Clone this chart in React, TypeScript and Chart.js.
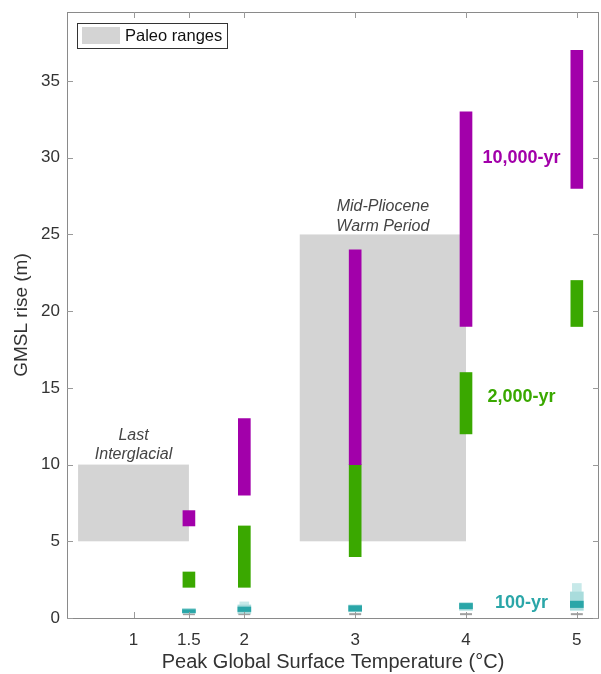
import { useEffect, useRef } from "react";
import { Chart, registerables } from "chart.js";

Chart.register(...registerables);

const FONT = "'Liberation Sans', Arial, Helvetica, sans-serif";

// Peak global surface temperature (°C) for each projection column
const temperatures = [1.5, 2, 3, 4, 5];
// 10,000-yr GMSL rise range (m)
const tenKyrLow = [6, 8, 10, 19, 28];
const tenKyrHigh = [7, 13, 24, 33, 37];
// 2,000-yr GMSL rise range (m)
const twoKyrLow = [2, 2, 4, 12, 19];
const twoKyrHigh = [3, 6, 10, 16, 22];
// 100-yr GMSL rise: likely (dark) and wider (light) ranges (m)
const hundredLow = [0.35, 0.42, 0.45, 0.6, 0.68];
const hundredHigh = [0.55, 0.72, 0.8, 0.95, 1.1];
const hundredRangeLow = [0.3, 0.3, 0.4, 0.5, 0.5];
const hundredRangeHigh = [0.62, 0.85, 0.85, 1.0, 1.7];
const hundredTailTemps = [2, 5];
const hundredTailLow = [0.85, 1.7];
const hundredTailHigh = [1.05, 2.25];
// grey baseline marks (m)
const baselineValues = [0.25, 0.25, 0.25, 0.25, 0.25];

// Paleo ranges
const paleoNames = [
  ["Last", "Interglacial"],
  ["Mid-Pliocene", "Warm Period"],
];
const paleoTempLow = [0.5, 2.5];
const paleoTempHigh = [1.5, 4.0];
const paleoSeaLow = [5, 5];
const paleoSeaHigh = [10, 25];
const paleoLabelTemp = [1.0, 3.25];
const paleoLabelSea = [11.9, 26.8];

// series annotations
const seriesLabels = ["10,000-yr", "2,000-yr", "100-yr"];
const seriesLabelTemp = [4.5, 4.5, 4.5];
const seriesLabelSea = [30, 14.4, 1.0];

const xTicks = [1, 1.5, 2, 3, 4, 5];
const yTicks = [0, 5, 10, 15, 20, 25, 30, 35];

const PURPLE = "#a200aa";
const GREEN = "#3aa800";
const TEAL = "#2aa6a8";
const TEAL_LIGHT = "#a9dcdc";
const TEAL_LIGHTER = "#c7e9e9";
const PALEO = "#d4d4d4";

const pairs = (xs: number[], lo: number[], hi: number[]) =>
  xs.map((x, i) => ({ x, y: [lo[i], hi[i]] }));

const decorPlugin = {
  id: "decor",
  beforeDatasetsDraw(chart: any) {
    const { ctx, scales } = chart;
    const x = scales.x;
    const y = scales.y;
    ctx.save();
    ctx.fillStyle = PALEO;
    for (let i = 0; i < paleoTempLow.length; i++) {
      const x0 = x.getPixelForValue(paleoTempLow[i]);
      const x1 = x.getPixelForValue(paleoTempHigh[i]);
      const y0 = y.getPixelForValue(paleoSeaLow[i]);
      const y1 = y.getPixelForValue(paleoSeaHigh[i]);
      ctx.fillRect(x0, y1, x1 - x0, y0 - y1);
    }
    ctx.restore();
  },
  afterDatasetsDraw(chart: any) {
    const { ctx, scales, chartArea } = chart;
    const x = scales.x;
    const y = scales.y;
    const { left, right, top, bottom } = chartArea;
    ctx.save();

    // frame
    ctx.strokeStyle = "#8a8a8a";
    ctx.lineWidth = 1;
    ctx.strokeRect(left + 0.5, top + 0.5, right - left - 1, bottom - top);

    // inward ticks
    ctx.strokeStyle = "#9a9a9a";
    ctx.beginPath();
    xTicks.forEach((v) => {
      const px = Math.round(x.getPixelForValue(v)) + 0.5;
      ctx.moveTo(px, bottom);
      ctx.lineTo(px, bottom - 6);
      ctx.moveTo(px, top);
      ctx.lineTo(px, top + 6);
    });
    yTicks.forEach((v) => {
      const py = Math.round(y.getPixelForValue(v)) + 0.5;
      ctx.moveTo(left, py);
      ctx.lineTo(left + 6, py);
      ctx.moveTo(right, py);
      ctx.lineTo(right - 6, py);
    });
    ctx.stroke();

    // paleo labels
    ctx.fillStyle = "#444";
    ctx.font = `italic 16px ${FONT}`;
    ctx.textAlign = "center";
    ctx.textBaseline = "middle";
    for (let i = 0; i < paleoNames.length; i++) {
      const px = x.getPixelForValue(paleoLabelTemp[i]);
      const py = y.getPixelForValue(paleoLabelSea[i]);
      paleoNames[i].forEach((line, k) => ctx.fillText(line, px, py + k * 19.5));
    }

    // series labels
    const colors = [PURPLE, GREEN, TEAL];
    ctx.font = `bold 18px ${FONT}`;
    for (let i = 0; i < seriesLabels.length; i++) {
      ctx.fillStyle = colors[i];
      ctx.fillText(
        seriesLabels[i],
        x.getPixelForValue(seriesLabelTemp[i]),
        y.getPixelForValue(seriesLabelSea[i])
      );
    }

    // legend
    const lx = left + 10;
    const ly = top + 11;
    ctx.fillStyle = "#fff";
    ctx.fillRect(lx, ly, 150, 25);
    ctx.strokeStyle = "#333";
    ctx.strokeRect(lx + 0.5, ly + 0.5, 150, 25);
    ctx.fillStyle = PALEO;
    ctx.fillRect(lx + 5, ly + 4, 38, 17);
    ctx.fillStyle = "#111";
    ctx.font = `16.5px ${FONT}`;
    ctx.textAlign = "left";
    ctx.fillText("Paleo ranges", lx + 48, ly + 13);

    ctx.restore();
  },
};

export default function App() {
  const ref = useRef<HTMLCanvasElement | null>(null);

  useEffect(() => {
    if (!ref.current) return;
    const barBase = {
      type: "bar" as const,
      grouped: false,
      borderWidth: 0,
      borderSkipped: false,
      barThickness: 12,
    };
    const chart = new Chart(ref.current, {
      type: "bar",
      data: {
        datasets: [
          { ...barBase, label: "10,000-yr", data: pairs(temperatures, tenKyrLow, tenKyrHigh), backgroundColor: PURPLE } as any,
          { ...barBase, label: "2,000-yr", data: pairs(temperatures, twoKyrLow, twoKyrHigh), backgroundColor: GREEN } as any,
          { ...barBase, label: "100-yr", data: pairs(temperatures, hundredLow, hundredHigh), backgroundColor: TEAL, barThickness: 13 } as any,
          { ...barBase, label: "100-yr range", data: pairs(temperatures, hundredRangeLow, hundredRangeHigh), backgroundColor: TEAL_LIGHT, barThickness: 13 } as any,
          { ...barBase, label: "100-yr tail", data: pairs(hundredTailTemps, hundredTailLow, hundredTailHigh), backgroundColor: TEAL_LIGHTER, barThickness: 9 } as any,
          {
            type: "scatter",
            label: "baseline",
            data: temperatures.map((t, i) => ({ x: t, y: baselineValues[i] })),
            pointStyle: "line",
            radius: 6,
            borderColor: "#a0a0a0",
            borderWidth: 2,
            showLine: false,
          } as any,
        ],
      },
      options: {
        responsive: false,
        animation: false,
        layout: { autoPadding: false, padding: { top: 12, right: 2, left: 0, bottom: 0 } },
        plugins: {
          legend: { display: false },
          tooltip: { enabled: false },
        },
        scales: {
          x: {
            type: "linear",
            min: 0.4,
            max: 5.2,
            offset: false,
            grid: { display: false, drawTicks: false },
            border: { display: false },
            afterBuildTicks: (s: any) => {
              s.ticks = xTicks.map((v) => ({ value: v }));
            },
            afterFit: (s: any) => {
              s.height = 56;
              s.paddingLeft = 0;
              s.paddingRight = 0;
            },
            ticks: {
              callback: (v: any) => String(v),
              font: { family: FONT, size: 17 },
              color: "#333",
              padding: 12,
              maxRotation: 0,
              autoSkip: false,
            },
            title: {
              display: true,
              text: "Peak Global Surface Temperature (°C)",
              font: { family: FONT, size: 20 },
              color: "#333",
              padding: { top: 0, bottom: 0 },
            },
          },
          y: {
            type: "linear",
            min: 0,
            max: 39.5,
            grid: { display: false, drawTicks: false },
            border: { display: false },
            afterBuildTicks: (s: any) => {
              s.ticks = yTicks.map((v) => ({ value: v }));
            },
            afterFit: (s: any) => {
              s.width = 67;
              s.paddingTop = 0;
              s.paddingBottom = 0;
            },
            ticks: {
              callback: (v: any) => String(v),
              font: { family: FONT, size: 17 },
              color: "#333",
              padding: 7,
            },
            title: {
              display: true,
              text: "GMSL rise (m)",
              font: { family: FONT, size: 19 },
              color: "#333",
              padding: { top: 10.5, bottom: 0 },
            },
          },
        },
      } as any,
      plugins: [decorPlugin],
    });
    return () => chart.destroy();
  }, []);

  return (
    <div style={{ position: "fixed", left: 0, top: 0, width: 601, height: 674, background: "#fff" }}>
      <canvas ref={ref} width={601} height={674} style={{ display: "block" }} />
    </div>
  );
}
